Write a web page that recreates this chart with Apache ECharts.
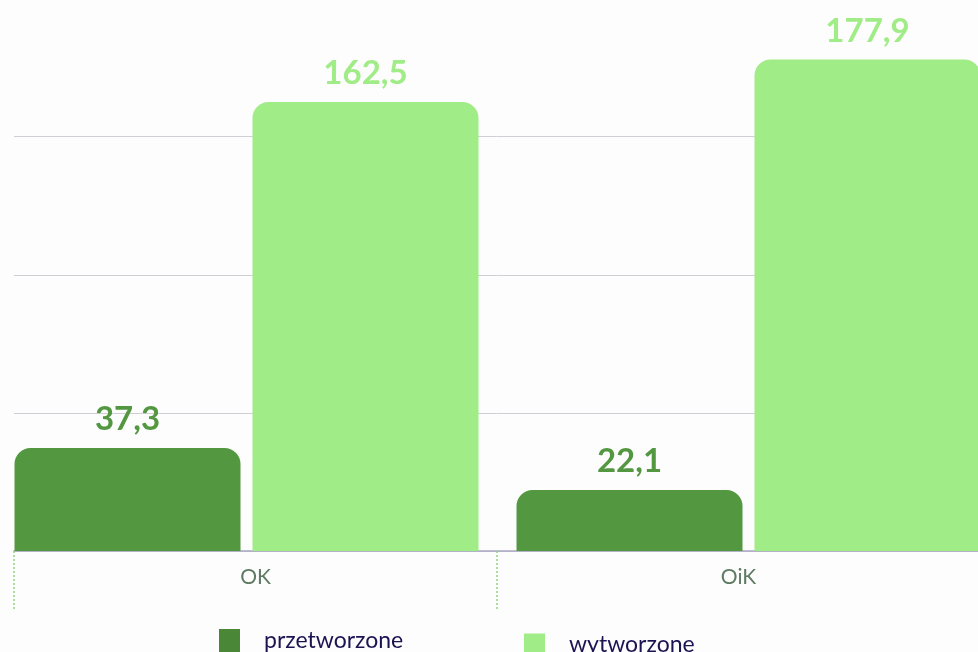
<!DOCTYPE html>
<html><head><meta charset="utf-8">
<script src="https://cdn.jsdelivr.net/npm/echarts@6/dist/echarts.min.js"></script>
<style>html,body{margin:0;padding:0;background:#fdfdfd}#c{width:978px;height:652px}</style>
</head><body><div id="c"></div>
<script>
const categories = ['OK', 'OiK'];
const przetworzone = [37.3, 22.1];
const wytworzone = [162.5, 177.9];
const seriesNames = ['przetworzone', 'wytworzone'];
const yMin = 0, yMax = 200, yInterval = 50;

const fmt = p => String(p.value).replace('.', ',');
const chart = echarts.init(document.getElementById('c'), null, {renderer: 'canvas'});
chart.setOption({
  backgroundColor: '#fdfdfd',
  animation: false,
  textStyle: {fontFamily: 'Lato'},
  grid: [
    {left: -4.5, width: 1004, top: -1.5, bottom: 101, outerBoundsMode: 'none', containLabel: false},
    {left: 14, width: 966, top: -1.5, bottom: 101, outerBoundsMode: 'none', containLabel: false}
  ],
  legend: [
    {data: [{name: seriesNames[0], itemStyle: {color: '#4a8838'}}], left: 214, top: 624, itemWidth: 21, itemHeight: 24, icon: 'rect',
     textStyle: {fontSize: 23, color: '#1c1452', fontFamily: 'Lato', padding: [0, 0, 6, 19]}},
    {data: [seriesNames[1]], left: 519, top: 628, itemWidth: 21, itemHeight: 22, icon: 'rect',
     textStyle: {fontSize: 23, color: '#1c1452', fontFamily: 'Lato', padding: [0, 0, 2, 19]}}
  ],
  xAxis: [
    {gridIndex: 0, type: 'category', data: categories, show: false},
    {gridIndex: 1, type: 'category', data: categories,
     axisLine: {lineStyle: {color: '#aaa8c4', width: 1.5}},
     axisTick: {show: true, length: 59, lineStyle: {color: '#8fd47c', width: 1.5, type: [2, 2]}},
     axisLabel: {fontSize: 21, color: '#5e7a62', margin: 16, fontFamily: 'Lato'}}
  ],
  yAxis: [
    {gridIndex: 0, type: 'value', min: yMin, max: yMax, interval: yInterval, show: false},
    {gridIndex: 1, type: 'value', min: yMin, max: yMax, interval: yInterval,
     axisLine: {show: false}, axisTick: {show: false}, axisLabel: {show: false},
     splitLine: {lineStyle: {color: '#cfcfd6', width: 1}}}
  ],
  series: [
    {name: seriesNames[0], type: 'bar', xAxisIndex: 0, yAxisIndex: 0, data: przetworzone,
     barWidth: 226, barGap: '5.3%',
     itemStyle: {color: '#539841', borderRadius: [16, 16, 0, 0]},
     label: {show: true, position: 'top', distance: 12, formatter: fmt,
             fontSize: 33, fontWeight: 'bold', color: '#539841', fontFamily: 'Lato'}},
    {name: seriesNames[1], type: 'bar', xAxisIndex: 0, yAxisIndex: 0, data: wytworzone,
     barWidth: 226, barGap: '5.3%',
     itemStyle: {color: '#a0ec86', borderRadius: [16, 16, 0, 0]},
     label: {show: true, position: 'top', distance: 12, formatter: fmt,
             fontSize: 33, fontWeight: 'bold', color: '#a0ec86', fontFamily: 'Lato'}}
  ]
});
</script></body></html>
